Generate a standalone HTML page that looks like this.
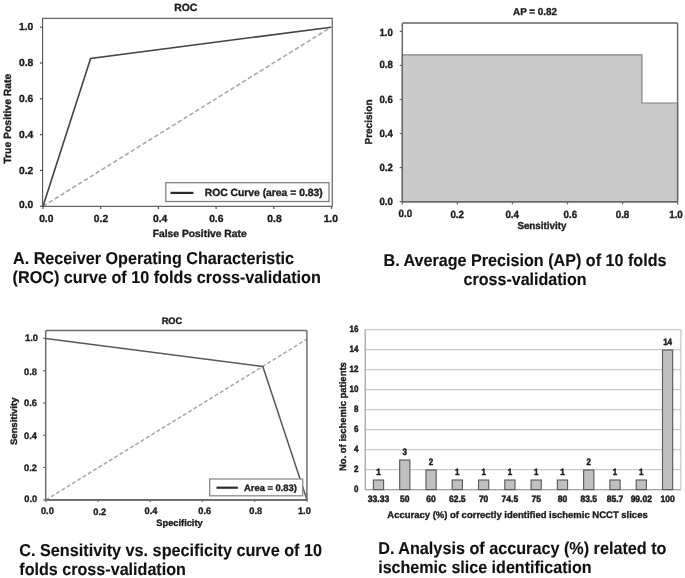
<!DOCTYPE html>
<html lang="en">
<head>
<meta charset="utf-8">
<title>Figure: ROC, average precision, sensitivity vs. specificity and accuracy analysis</title>
<style>
html,body{margin:0;padding:0;background:#fff;}
body{width:685px;height:578px;overflow:hidden;}
svg{display:block;font-family:'Liberation Sans', sans-serif;font-weight:bold;text-rendering:geometricPrecision;}
svg#fig{filter:blur(0.7px);}
</style>
</head>
<body>
<svg id="fig" role="img" aria-label="Four-panel figure: ROC curve, average precision, sensitivity vs. specificity, accuracy histogram" width="685" height="578" viewBox="0 0 685 578">
<rect x="-5" y="-5" width="695" height="588" fill="#ffffff"/>
<g id="chart-a">
<polyline points="43.00,206.30 331.00,27.20" fill="none" stroke="#a8a8a8" stroke-width="1.6" stroke-dasharray="4.4 2.5"/>
<polyline points="43.00,206.30 90.60,58.40 331.20,27.20" fill="none" stroke="#444444" stroke-width="1.6" />
<rect x="42.60" y="18.35" width="289.65" height="188.00" fill="none" stroke="#525252" stroke-width="1.1" />
<line x1="40.00" y1="206.30" x2="42.60" y2="206.30" stroke="#525252" stroke-width="1.2" />
<line x1="43.00" y1="206.35" x2="43.00" y2="208.95" stroke="#525252" stroke-width="1.2" />
<text x="33.30" y="208.49" font-size="10.3" text-anchor="end" fill="#1c1c1c" stroke="#1c1c1c" stroke-width="0.35">0.0</text>
<text x="46.30" y="221.89" font-size="10.3" text-anchor="middle" fill="#1c1c1c" stroke="#1c1c1c" stroke-width="0.35">0.0</text>
<line x1="40.00" y1="170.48" x2="42.60" y2="170.48" stroke="#525252" stroke-width="1.2" />
<line x1="100.70" y1="206.35" x2="100.70" y2="208.95" stroke="#525252" stroke-width="1.2" />
<text x="33.30" y="174.09" font-size="10.3" text-anchor="end" fill="#1c1c1c" stroke="#1c1c1c" stroke-width="0.35">0.2</text>
<text x="101.00" y="221.89" font-size="10.3" text-anchor="middle" fill="#1c1c1c" stroke="#1c1c1c" stroke-width="0.35">0.2</text>
<line x1="40.00" y1="134.66" x2="42.60" y2="134.66" stroke="#525252" stroke-width="1.2" />
<line x1="158.40" y1="206.35" x2="158.40" y2="208.95" stroke="#525252" stroke-width="1.2" />
<text x="33.30" y="138.09" font-size="10.3" text-anchor="end" fill="#1c1c1c" stroke="#1c1c1c" stroke-width="0.35">0.4</text>
<text x="160.20" y="221.89" font-size="10.3" text-anchor="middle" fill="#1c1c1c" stroke="#1c1c1c" stroke-width="0.35">0.4</text>
<line x1="40.00" y1="98.84" x2="42.60" y2="98.84" stroke="#525252" stroke-width="1.2" />
<line x1="216.10" y1="206.35" x2="216.10" y2="208.95" stroke="#525252" stroke-width="1.2" />
<text x="33.30" y="102.19" font-size="10.3" text-anchor="end" fill="#1c1c1c" stroke="#1c1c1c" stroke-width="0.35">0.6</text>
<text x="216.30" y="221.89" font-size="10.3" text-anchor="middle" fill="#1c1c1c" stroke="#1c1c1c" stroke-width="0.35">0.6</text>
<line x1="40.00" y1="63.02" x2="42.60" y2="63.02" stroke="#525252" stroke-width="1.2" />
<line x1="273.80" y1="206.35" x2="273.80" y2="208.95" stroke="#525252" stroke-width="1.2" />
<text x="33.30" y="66.09" font-size="10.3" text-anchor="end" fill="#1c1c1c" stroke="#1c1c1c" stroke-width="0.35">0.8</text>
<text x="274.50" y="221.89" font-size="10.3" text-anchor="middle" fill="#1c1c1c" stroke="#1c1c1c" stroke-width="0.35">0.8</text>
<line x1="40.00" y1="27.20" x2="42.60" y2="27.20" stroke="#525252" stroke-width="1.2" />
<line x1="331.50" y1="206.35" x2="331.50" y2="208.95" stroke="#525252" stroke-width="1.2" />
<text x="33.30" y="30.09" font-size="10.3" text-anchor="end" fill="#1c1c1c" stroke="#1c1c1c" stroke-width="0.35">1.0</text>
<text x="330.80" y="221.89" font-size="10.3" text-anchor="middle" fill="#1c1c1c" stroke="#1c1c1c" stroke-width="0.35">1.0</text>
<text x="185.80" y="10.72" font-size="10.4" text-anchor="middle" fill="#1c1c1c" stroke="#1c1c1c" stroke-width="0.35">ROC</text>
<text x="199.70" y="236.72" font-size="10.4" text-anchor="middle" fill="#1c1c1c" stroke="#1c1c1c" stroke-width="0.35" textLength="94" lengthAdjust="spacingAndGlyphs">False Positive Rate</text>
<text x="11.42" y="118.70" font-size="10.4" text-anchor="middle" fill="#1c1c1c" stroke="#1c1c1c" stroke-width="0.35" textLength="90" lengthAdjust="spacingAndGlyphs" transform="rotate(-90 11.42 118.70)">True Positive Rate</text>
<rect x="165.80" y="182.70" width="163.20" height="18.80" fill="#fff" stroke="#828282" stroke-width="1.3" />
<line x1="170.50" y1="192.90" x2="193.40" y2="192.90" stroke="#2a2a2a" stroke-width="2.2" />
<text x="204.70" y="196.10" font-size="10.4" text-anchor="start" fill="#1c1c1c" stroke="#1c1c1c" stroke-width="0.35" textLength="118" lengthAdjust="spacingAndGlyphs">ROC Curve (area = 0.83)</text>
<text x="13.00" y="263.50" font-size="17.2" text-anchor="start" fill="#111" stroke="#111" stroke-width="0.12" textLength="281" lengthAdjust="spacingAndGlyphs">A. Receiver Operating Characteristic</text>
<text x="12.60" y="283.20" font-size="17.2" text-anchor="start" fill="#111" stroke="#111" stroke-width="0.12" textLength="308.2" lengthAdjust="spacingAndGlyphs">(ROC) curve of 10 folds cross-validation</text>
</g>
<g id="chart-b">
<polygon points="402.30,201.80 402.30,54.90 641.90,54.90 641.90,103.00 677.60,103.00 677.60,201.80" fill="#cacaca" stroke="#808080" stroke-width="1.2" />
<rect x="402.30" y="22.90" width="275.30" height="178.90" fill="none" stroke="#666666" stroke-width="1.45" rx="0.8"/>
<line x1="399.70" y1="201.60" x2="402.30" y2="201.60" stroke="#666666" stroke-width="1.2" />
<line x1="402.30" y1="201.80" x2="402.30" y2="204.40" stroke="#666666" stroke-width="1.2" />
<text x="392.80" y="205.12" font-size="10.4" text-anchor="end" fill="#1c1c1c" stroke="#1c1c1c" stroke-width="0.35" textLength="13.4" lengthAdjust="spacingAndGlyphs">0.0</text>
<text x="405.30" y="217.12" font-size="10.4" text-anchor="middle" fill="#1c1c1c" stroke="#1c1c1c" stroke-width="0.35" textLength="13.6" lengthAdjust="spacingAndGlyphs">0.0</text>
<line x1="399.70" y1="167.56" x2="402.30" y2="167.56" stroke="#666666" stroke-width="1.2" />
<line x1="457.36" y1="201.80" x2="457.36" y2="204.40" stroke="#666666" stroke-width="1.2" />
<text x="392.80" y="171.32" font-size="10.4" text-anchor="end" fill="#1c1c1c" stroke="#1c1c1c" stroke-width="0.35" textLength="13.4" lengthAdjust="spacingAndGlyphs">0.2</text>
<text x="457.20" y="218.12" font-size="10.4" text-anchor="middle" fill="#1c1c1c" stroke="#1c1c1c" stroke-width="0.35" textLength="13.6" lengthAdjust="spacingAndGlyphs">0.2</text>
<line x1="399.70" y1="133.52" x2="402.30" y2="133.52" stroke="#666666" stroke-width="1.2" />
<line x1="512.42" y1="201.80" x2="512.42" y2="204.40" stroke="#666666" stroke-width="1.2" />
<text x="392.80" y="137.22" font-size="10.4" text-anchor="end" fill="#1c1c1c" stroke="#1c1c1c" stroke-width="0.35" textLength="13.4" lengthAdjust="spacingAndGlyphs">0.4</text>
<text x="512.20" y="217.82" font-size="10.4" text-anchor="middle" fill="#1c1c1c" stroke="#1c1c1c" stroke-width="0.35" textLength="13.6" lengthAdjust="spacingAndGlyphs">0.4</text>
<line x1="399.70" y1="99.48" x2="402.30" y2="99.48" stroke="#666666" stroke-width="1.2" />
<line x1="567.48" y1="201.80" x2="567.48" y2="204.40" stroke="#666666" stroke-width="1.2" />
<text x="392.80" y="103.02" font-size="10.4" text-anchor="end" fill="#1c1c1c" stroke="#1c1c1c" stroke-width="0.35" textLength="13.4" lengthAdjust="spacingAndGlyphs">0.6</text>
<text x="570.40" y="217.82" font-size="10.4" text-anchor="middle" fill="#1c1c1c" stroke="#1c1c1c" stroke-width="0.35" textLength="13.6" lengthAdjust="spacingAndGlyphs">0.6</text>
<line x1="399.70" y1="65.44" x2="402.30" y2="65.44" stroke="#666666" stroke-width="1.2" />
<line x1="622.54" y1="201.80" x2="622.54" y2="204.40" stroke="#666666" stroke-width="1.2" />
<text x="392.80" y="68.32" font-size="10.4" text-anchor="end" fill="#1c1c1c" stroke="#1c1c1c" stroke-width="0.35" textLength="13.4" lengthAdjust="spacingAndGlyphs">0.8</text>
<text x="622.50" y="217.82" font-size="10.4" text-anchor="middle" fill="#1c1c1c" stroke="#1c1c1c" stroke-width="0.35" textLength="13.6" lengthAdjust="spacingAndGlyphs">0.8</text>
<line x1="399.70" y1="31.40" x2="402.30" y2="31.40" stroke="#666666" stroke-width="1.2" />
<line x1="677.60" y1="201.80" x2="677.60" y2="204.40" stroke="#666666" stroke-width="1.2" />
<text x="392.80" y="35.92" font-size="10.4" text-anchor="end" fill="#1c1c1c" stroke="#1c1c1c" stroke-width="0.35" textLength="13.4" lengthAdjust="spacingAndGlyphs">1.0</text>
<text x="676.00" y="217.82" font-size="10.4" text-anchor="middle" fill="#1c1c1c" stroke="#1c1c1c" stroke-width="0.35" textLength="13.6" lengthAdjust="spacingAndGlyphs">1.0</text>
<text x="535.00" y="15.38" font-size="10.0" text-anchor="middle" fill="#1c1c1c" stroke="#1c1c1c" stroke-width="0.35" textLength="44" lengthAdjust="spacingAndGlyphs">AP = 0.82</text>
<text x="541.90" y="229.18" font-size="10.0" text-anchor="middle" fill="#1c1c1c" stroke="#1c1c1c" stroke-width="0.35" textLength="49" lengthAdjust="spacingAndGlyphs">Sensitivity</text>
<text x="371.58" y="122.00" font-size="10.0" text-anchor="middle" fill="#1c1c1c" stroke="#1c1c1c" stroke-width="0.35" textLength="45" lengthAdjust="spacingAndGlyphs" transform="rotate(-90 371.58 122.00)">Precision</text>
<text x="383.50" y="265.80" font-size="17.1" text-anchor="start" fill="#111" stroke="#111" stroke-width="0.12" textLength="283" lengthAdjust="spacingAndGlyphs">B. Average Precision (AP) of 10 folds</text>
<text x="463.60" y="284.90" font-size="17.1" text-anchor="start" fill="#111" stroke="#111" stroke-width="0.12" textLength="123" lengthAdjust="spacingAndGlyphs">cross-validation</text>
</g>
<g id="chart-c">
<polyline points="45.70,500.00 306.90,339.20" fill="none" stroke="#aaaaaa" stroke-width="1.5" stroke-dasharray="4.0 2.2"/>
<polyline points="45.70,338.40 262.80,366.50 306.95,499.80" fill="none" stroke="#585858" stroke-width="1.5" />
<rect x="45.70" y="330.50" width="261.20" height="169.40" fill="none" stroke="#6c6c6c" stroke-width="1.45" rx="0.8"/>
<line x1="45.20" y1="499.90" x2="307.40" y2="499.90" stroke="#6c6c6c" stroke-width="1.9" />
<line x1="43.10" y1="499.80" x2="45.70" y2="499.80" stroke="#6c6c6c" stroke-width="1.2" />
<line x1="45.70" y1="499.90" x2="45.70" y2="502.10" stroke="#6c6c6c" stroke-width="1.2" />
<text x="37.20" y="502.37" font-size="9.4" text-anchor="end" fill="#1c1c1c" stroke="#1c1c1c" stroke-width="0.35" textLength="12.9" lengthAdjust="spacingAndGlyphs">0.0</text>
<text x="47.40" y="513.97" font-size="9.4" text-anchor="middle" fill="#1c1c1c" stroke="#1c1c1c" stroke-width="0.35" textLength="12.9" lengthAdjust="spacingAndGlyphs">0.0</text>
<line x1="43.10" y1="467.52" x2="45.70" y2="467.52" stroke="#6c6c6c" stroke-width="1.2" />
<line x1="97.95" y1="499.90" x2="97.95" y2="502.10" stroke="#6c6c6c" stroke-width="1.2" />
<text x="36.90" y="471.27" font-size="9.4" text-anchor="end" fill="#1c1c1c" stroke="#1c1c1c" stroke-width="0.35" textLength="12.9" lengthAdjust="spacingAndGlyphs">0.2</text>
<text x="99.70" y="514.67" font-size="9.4" text-anchor="middle" fill="#1c1c1c" stroke="#1c1c1c" stroke-width="0.35" textLength="12.9" lengthAdjust="spacingAndGlyphs">0.2</text>
<line x1="43.10" y1="435.24" x2="45.70" y2="435.24" stroke="#6c6c6c" stroke-width="1.2" />
<line x1="150.20" y1="499.90" x2="150.20" y2="502.10" stroke="#6c6c6c" stroke-width="1.2" />
<text x="36.90" y="438.57" font-size="9.4" text-anchor="end" fill="#1c1c1c" stroke="#1c1c1c" stroke-width="0.35" textLength="12.9" lengthAdjust="spacingAndGlyphs">0.4</text>
<text x="151.00" y="514.27" font-size="9.4" text-anchor="middle" fill="#1c1c1c" stroke="#1c1c1c" stroke-width="0.35" textLength="12.9" lengthAdjust="spacingAndGlyphs">0.4</text>
<line x1="43.10" y1="402.96" x2="45.70" y2="402.96" stroke="#6c6c6c" stroke-width="1.2" />
<line x1="202.45" y1="499.90" x2="202.45" y2="502.10" stroke="#6c6c6c" stroke-width="1.2" />
<text x="36.90" y="406.17" font-size="9.4" text-anchor="end" fill="#1c1c1c" stroke="#1c1c1c" stroke-width="0.35" textLength="12.9" lengthAdjust="spacingAndGlyphs">0.6</text>
<text x="204.70" y="514.07" font-size="9.4" text-anchor="middle" fill="#1c1c1c" stroke="#1c1c1c" stroke-width="0.35" textLength="12.9" lengthAdjust="spacingAndGlyphs">0.6</text>
<line x1="43.10" y1="370.68" x2="45.70" y2="370.68" stroke="#6c6c6c" stroke-width="1.2" />
<line x1="254.70" y1="499.90" x2="254.70" y2="502.10" stroke="#6c6c6c" stroke-width="1.2" />
<text x="36.90" y="375.37" font-size="9.4" text-anchor="end" fill="#1c1c1c" stroke="#1c1c1c" stroke-width="0.35" textLength="12.9" lengthAdjust="spacingAndGlyphs">0.8</text>
<text x="255.70" y="513.97" font-size="9.4" text-anchor="middle" fill="#1c1c1c" stroke="#1c1c1c" stroke-width="0.35" textLength="12.9" lengthAdjust="spacingAndGlyphs">0.8</text>
<line x1="43.10" y1="338.40" x2="45.70" y2="338.40" stroke="#6c6c6c" stroke-width="1.2" />
<line x1="306.95" y1="499.90" x2="306.95" y2="502.10" stroke="#6c6c6c" stroke-width="1.2" />
<text x="37.90" y="341.27" font-size="9.4" text-anchor="end" fill="#1c1c1c" stroke="#1c1c1c" stroke-width="0.35" textLength="12.9" lengthAdjust="spacingAndGlyphs">1.0</text>
<text x="304.40" y="513.97" font-size="9.4" text-anchor="middle" fill="#1c1c1c" stroke="#1c1c1c" stroke-width="0.35" textLength="12.9" lengthAdjust="spacingAndGlyphs">1.0</text>
<text x="172.00" y="323.93" font-size="9.3" text-anchor="middle" fill="#1c1c1c" stroke="#1c1c1c" stroke-width="0.35">ROC</text>
<text x="179.50" y="526.33" font-size="9.3" text-anchor="middle" fill="#1c1c1c" stroke="#1c1c1c" stroke-width="0.35" textLength="46.4" lengthAdjust="spacingAndGlyphs">Specificity</text>
<text x="17.23" y="421.30" font-size="9.3" text-anchor="middle" fill="#1c1c1c" stroke="#1c1c1c" stroke-width="0.35" textLength="47.5" lengthAdjust="spacingAndGlyphs" transform="rotate(-90 17.23 421.30)">Sensitivity</text>
<rect x="209.70" y="479.00" width="93.00" height="16.80" fill="#fff" stroke="#8a8a8a" stroke-width="1.3" />
<line x1="216.50" y1="487.70" x2="237.80" y2="487.70" stroke="#2a2a2a" stroke-width="2.2" />
<text x="244.00" y="490.90" font-size="9.3" text-anchor="start" fill="#1c1c1c" stroke="#1c1c1c" stroke-width="0.35" textLength="52.9" lengthAdjust="spacingAndGlyphs">Area = 0.83)</text>
<text x="19.30" y="555.90" font-size="17.2" text-anchor="start" fill="#111" stroke="#111" stroke-width="0.12" textLength="302.7" lengthAdjust="spacingAndGlyphs">C. Sensitivity vs. specificity curve of 10</text>
<text x="19.30" y="575.00" font-size="17.2" text-anchor="start" fill="#111" stroke="#111" stroke-width="0.12" textLength="166.6" lengthAdjust="spacingAndGlyphs">folds cross-validation</text>
</g>
<g id="chart-d">
<line x1="365.20" y1="489.60" x2="680.90" y2="489.60" stroke="#cacaca" stroke-width="1.3" />
<text x="358.40" y="491.79" font-size="9.2" text-anchor="end" fill="#1c1c1c" stroke="#1c1c1c" stroke-width="0.5" textLength="4.45" lengthAdjust="spacingAndGlyphs">0</text>
<line x1="365.20" y1="469.60" x2="680.90" y2="469.60" stroke="#cacaca" stroke-width="1.3" />
<text x="358.40" y="471.79" font-size="9.2" text-anchor="end" fill="#1c1c1c" stroke="#1c1c1c" stroke-width="0.5" textLength="4.45" lengthAdjust="spacingAndGlyphs">2</text>
<line x1="365.20" y1="449.60" x2="680.90" y2="449.60" stroke="#cacaca" stroke-width="1.3" />
<text x="358.40" y="451.79" font-size="9.2" text-anchor="end" fill="#1c1c1c" stroke="#1c1c1c" stroke-width="0.5" textLength="4.45" lengthAdjust="spacingAndGlyphs">4</text>
<line x1="365.20" y1="429.60" x2="680.90" y2="429.60" stroke="#cacaca" stroke-width="1.3" />
<text x="358.40" y="431.79" font-size="9.2" text-anchor="end" fill="#1c1c1c" stroke="#1c1c1c" stroke-width="0.5" textLength="4.45" lengthAdjust="spacingAndGlyphs">6</text>
<line x1="365.20" y1="409.60" x2="680.90" y2="409.60" stroke="#cacaca" stroke-width="1.3" />
<text x="358.40" y="411.79" font-size="9.2" text-anchor="end" fill="#1c1c1c" stroke="#1c1c1c" stroke-width="0.5" textLength="4.45" lengthAdjust="spacingAndGlyphs">8</text>
<line x1="365.20" y1="389.60" x2="680.90" y2="389.60" stroke="#cacaca" stroke-width="1.3" />
<text x="358.40" y="391.79" font-size="9.2" text-anchor="end" fill="#1c1c1c" stroke="#1c1c1c" stroke-width="0.5" textLength="8.9" lengthAdjust="spacingAndGlyphs">10</text>
<line x1="365.20" y1="369.60" x2="680.90" y2="369.60" stroke="#cacaca" stroke-width="1.3" />
<text x="358.40" y="371.79" font-size="9.2" text-anchor="end" fill="#1c1c1c" stroke="#1c1c1c" stroke-width="0.5" textLength="8.9" lengthAdjust="spacingAndGlyphs">12</text>
<line x1="365.20" y1="349.60" x2="680.90" y2="349.60" stroke="#cacaca" stroke-width="1.3" />
<text x="358.40" y="351.79" font-size="9.2" text-anchor="end" fill="#1c1c1c" stroke="#1c1c1c" stroke-width="0.5" textLength="8.9" lengthAdjust="spacingAndGlyphs">14</text>
<line x1="365.20" y1="329.60" x2="680.90" y2="329.60" stroke="#cacaca" stroke-width="1.3" />
<text x="358.40" y="331.79" font-size="9.2" text-anchor="end" fill="#1c1c1c" stroke="#1c1c1c" stroke-width="0.5" textLength="8.9" lengthAdjust="spacingAndGlyphs">16</text>
<line x1="365.20" y1="329.50" x2="365.20" y2="489.60" stroke="#a6a6a6" stroke-width="1.3" />
<line x1="680.90" y1="329.50" x2="680.90" y2="489.60" stroke="#cacaca" stroke-width="1.3" />
<line x1="365.20" y1="489.60" x2="680.90" y2="489.60" stroke="#a6a6a6" stroke-width="1.3" />
<rect x="373.40" y="480.00" width="10.20" height="9.60" fill="#c0c0c0" stroke="#5c5c5c" stroke-width="1.15" />
<text x="378.50" y="474.89" font-size="9.2" text-anchor="middle" fill="#1c1c1c" stroke="#1c1c1c" stroke-width="0.5" textLength="4.45" lengthAdjust="spacingAndGlyphs">1</text>
<text x="378.50" y="502.19" font-size="9.2" text-anchor="middle" fill="#1c1c1c" stroke="#1c1c1c" stroke-width="0.5" textLength="21.29" lengthAdjust="spacingAndGlyphs">33.33</text>
<rect x="399.68" y="460.00" width="10.20" height="29.60" fill="#c0c0c0" stroke="#5c5c5c" stroke-width="1.15" />
<text x="404.78" y="454.89" font-size="9.2" text-anchor="middle" fill="#1c1c1c" stroke="#1c1c1c" stroke-width="0.5" textLength="4.45" lengthAdjust="spacingAndGlyphs">3</text>
<text x="404.78" y="502.19" font-size="9.2" text-anchor="middle" fill="#1c1c1c" stroke="#1c1c1c" stroke-width="0.5" textLength="9.46" lengthAdjust="spacingAndGlyphs">50</text>
<rect x="425.96" y="470.00" width="10.20" height="19.60" fill="#c0c0c0" stroke="#5c5c5c" stroke-width="1.15" />
<text x="431.06" y="464.89" font-size="9.2" text-anchor="middle" fill="#1c1c1c" stroke="#1c1c1c" stroke-width="0.5" textLength="4.45" lengthAdjust="spacingAndGlyphs">2</text>
<text x="431.06" y="502.19" font-size="9.2" text-anchor="middle" fill="#1c1c1c" stroke="#1c1c1c" stroke-width="0.5" textLength="9.46" lengthAdjust="spacingAndGlyphs">60</text>
<rect x="452.24" y="480.00" width="10.20" height="9.60" fill="#c0c0c0" stroke="#5c5c5c" stroke-width="1.15" />
<text x="457.34" y="474.89" font-size="9.2" text-anchor="middle" fill="#1c1c1c" stroke="#1c1c1c" stroke-width="0.5" textLength="4.45" lengthAdjust="spacingAndGlyphs">1</text>
<text x="457.34" y="502.19" font-size="9.2" text-anchor="middle" fill="#1c1c1c" stroke="#1c1c1c" stroke-width="0.5" textLength="16.56" lengthAdjust="spacingAndGlyphs">62.5</text>
<rect x="478.52" y="480.00" width="10.20" height="9.60" fill="#c0c0c0" stroke="#5c5c5c" stroke-width="1.15" />
<text x="483.62" y="474.89" font-size="9.2" text-anchor="middle" fill="#1c1c1c" stroke="#1c1c1c" stroke-width="0.5" textLength="4.45" lengthAdjust="spacingAndGlyphs">1</text>
<text x="483.62" y="502.19" font-size="9.2" text-anchor="middle" fill="#1c1c1c" stroke="#1c1c1c" stroke-width="0.5" textLength="9.46" lengthAdjust="spacingAndGlyphs">70</text>
<rect x="504.80" y="480.00" width="10.20" height="9.60" fill="#c0c0c0" stroke="#5c5c5c" stroke-width="1.15" />
<text x="509.90" y="474.89" font-size="9.2" text-anchor="middle" fill="#1c1c1c" stroke="#1c1c1c" stroke-width="0.5" textLength="4.45" lengthAdjust="spacingAndGlyphs">1</text>
<text x="509.90" y="502.19" font-size="9.2" text-anchor="middle" fill="#1c1c1c" stroke="#1c1c1c" stroke-width="0.5" textLength="16.56" lengthAdjust="spacingAndGlyphs">74.5</text>
<rect x="531.08" y="480.00" width="10.20" height="9.60" fill="#c0c0c0" stroke="#5c5c5c" stroke-width="1.15" />
<text x="536.18" y="474.89" font-size="9.2" text-anchor="middle" fill="#1c1c1c" stroke="#1c1c1c" stroke-width="0.5" textLength="4.45" lengthAdjust="spacingAndGlyphs">1</text>
<text x="536.18" y="502.19" font-size="9.2" text-anchor="middle" fill="#1c1c1c" stroke="#1c1c1c" stroke-width="0.5" textLength="9.46" lengthAdjust="spacingAndGlyphs">75</text>
<rect x="557.36" y="480.00" width="10.20" height="9.60" fill="#c0c0c0" stroke="#5c5c5c" stroke-width="1.15" />
<text x="562.46" y="474.89" font-size="9.2" text-anchor="middle" fill="#1c1c1c" stroke="#1c1c1c" stroke-width="0.5" textLength="4.45" lengthAdjust="spacingAndGlyphs">1</text>
<text x="562.46" y="502.19" font-size="9.2" text-anchor="middle" fill="#1c1c1c" stroke="#1c1c1c" stroke-width="0.5" textLength="9.46" lengthAdjust="spacingAndGlyphs">80</text>
<rect x="583.64" y="470.00" width="10.20" height="19.60" fill="#c0c0c0" stroke="#5c5c5c" stroke-width="1.15" />
<text x="588.74" y="464.89" font-size="9.2" text-anchor="middle" fill="#1c1c1c" stroke="#1c1c1c" stroke-width="0.5" textLength="4.45" lengthAdjust="spacingAndGlyphs">2</text>
<text x="588.74" y="502.19" font-size="9.2" text-anchor="middle" fill="#1c1c1c" stroke="#1c1c1c" stroke-width="0.5" textLength="16.56" lengthAdjust="spacingAndGlyphs">83.5</text>
<rect x="609.92" y="480.00" width="10.20" height="9.60" fill="#c0c0c0" stroke="#5c5c5c" stroke-width="1.15" />
<text x="615.02" y="474.89" font-size="9.2" text-anchor="middle" fill="#1c1c1c" stroke="#1c1c1c" stroke-width="0.5" textLength="4.45" lengthAdjust="spacingAndGlyphs">1</text>
<text x="615.02" y="502.19" font-size="9.2" text-anchor="middle" fill="#1c1c1c" stroke="#1c1c1c" stroke-width="0.5" textLength="16.56" lengthAdjust="spacingAndGlyphs">85.7</text>
<rect x="636.20" y="480.00" width="10.20" height="9.60" fill="#c0c0c0" stroke="#5c5c5c" stroke-width="1.15" />
<text x="641.30" y="474.89" font-size="9.2" text-anchor="middle" fill="#1c1c1c" stroke="#1c1c1c" stroke-width="0.5" textLength="4.45" lengthAdjust="spacingAndGlyphs">1</text>
<text x="641.30" y="502.19" font-size="9.2" text-anchor="middle" fill="#1c1c1c" stroke="#1c1c1c" stroke-width="0.5" textLength="21.29" lengthAdjust="spacingAndGlyphs">99.02</text>
<rect x="662.48" y="350.00" width="10.20" height="139.60" fill="#c0c0c0" stroke="#5c5c5c" stroke-width="1.15" />
<text x="667.58" y="344.89" font-size="9.2" text-anchor="middle" fill="#1c1c1c" stroke="#1c1c1c" stroke-width="0.5" textLength="8.9" lengthAdjust="spacingAndGlyphs">14</text>
<text x="667.58" y="502.19" font-size="9.2" text-anchor="middle" fill="#1c1c1c" stroke="#1c1c1c" stroke-width="0.5" textLength="14.19" lengthAdjust="spacingAndGlyphs">100</text>
<text x="517.50" y="517.70" font-size="9.5" text-anchor="middle" fill="#1c1c1c" stroke="#1c1c1c" stroke-width="0.35" textLength="260.4" lengthAdjust="spacingAndGlyphs">Accuracy (%) of correctly identified ischemic NCCT slices</text>
<text x="345.60" y="416.60" font-size="9.5" text-anchor="middle" fill="#1c1c1c" stroke="#1c1c1c" stroke-width="0.35" textLength="108.9" lengthAdjust="spacingAndGlyphs" transform="rotate(-90 345.60 416.60)">No. of ischemic patients</text>
<text x="378.20" y="553.60" font-size="17.2" text-anchor="start" fill="#111" stroke="#111" stroke-width="0.12" textLength="288.3" lengthAdjust="spacingAndGlyphs">D. Analysis of accuracy (%) related to</text>
<text x="378.20" y="572.90" font-size="17.2" text-anchor="start" fill="#111" stroke="#111" stroke-width="0.12" textLength="213.4" lengthAdjust="spacingAndGlyphs">ischemic slice identification</text>
</g>
</svg>
</body>
</html>
